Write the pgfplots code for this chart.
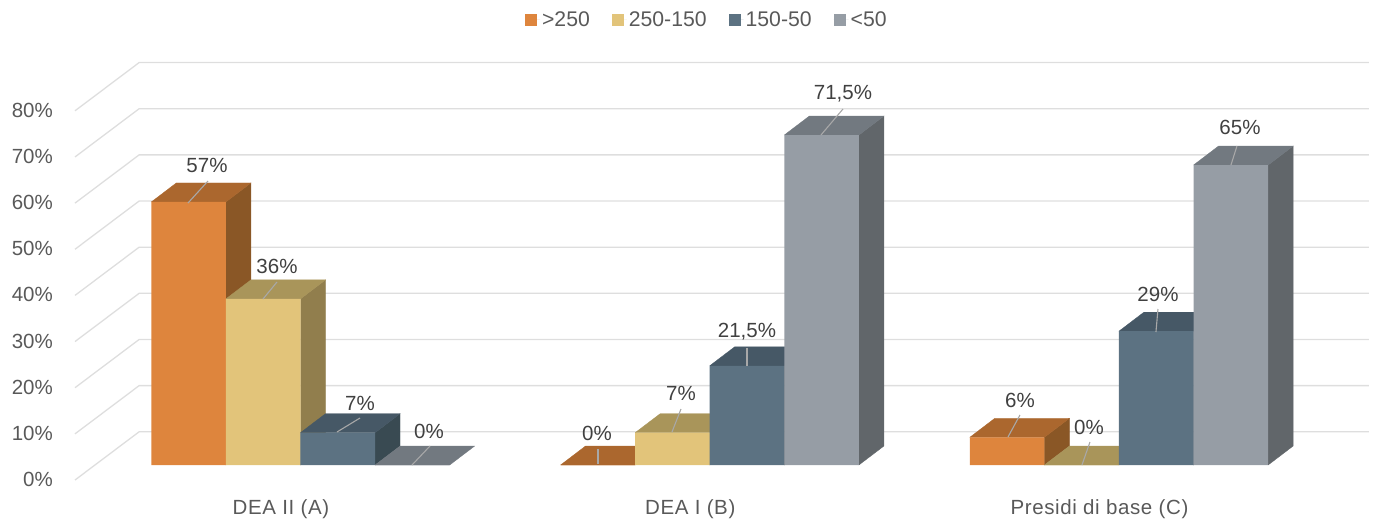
\documentclass[border=0pt]{standalone}
\usepackage{fontspec}
\setmainfont{Liberation Sans}
\usepackage{pgfplots}
\pgfplotsset{compat=1.18}
\definecolor{oF}{HTML}{DE853D}\definecolor{oT}{HTML}{AB672E}\definecolor{oS}{HTML}{8A5726}
\definecolor{yF}{HTML}{E2C47A}\definecolor{yT}{HTML}{A9955A}\definecolor{yS}{HTML}{917E4D}
\definecolor{bF}{HTML}{5C7282}\definecolor{bT}{HTML}{465866}\definecolor{bS}{HTML}{394A52}
\definecolor{gF}{HTML}{969DA5}\definecolor{gT}{HTML}{727980}\definecolor{gS}{HTML}{61666A}
\definecolor{gridc}{HTML}{DEDEDE}
\definecolor{tickc}{HTML}{595959}
\definecolor{labc}{HTML}{404040}
\definecolor{leadc}{HTML}{A8A8A8}
\newcommand\fs{\fontsize{20.5}{24}\selectfont}
\newcommand\fsl{\fontsize{21.2}{24}\selectfont}
\newcommand\fsx{\fontsize{20.5}{24}\selectfont\addfontfeatures{LetterSpace=3}}
% depth faces of a bar: category, series shift, value, colour
\newcommand\sideface[4]{%
  \pgfmathsetmacro\xr{#1+#2+0.09115}\pgfmathsetmacro\xb{\xr+0.0611}%
  \pgfmathsetmacro\vb{#3+4.117}\pgfmathsetmacro\eb{4.117}%
  \addplot[fill=#4,draw=#4,line width=0.3pt,forget plot] coordinates {(\xr,0)(\xb,\eb)(\xb,\vb)(\xr,#3)(\xr,0)};}
\newcommand\topface[4]{%
  \pgfmathsetmacro\xl{#1+#2-0.09115}\pgfmathsetmacro\xr{#1+#2+0.09115}%
  \pgfmathsetmacro\xlb{\xl+0.0611}\pgfmathsetmacro\xrb{\xr+0.0611}\pgfmathsetmacro\vb{#3+4.117}%
  \addplot[fill=#4,draw=#4,line width=0.3pt,forget plot] coordinates {(\xl,#3)(\xlb,\vb)(\xrb,\vb)(\xr,#3)(\xl,#3)};}
% data label with leader line, positions given in picture pixels
\newcommand\lab[7]{%
  \pgfmathsetmacro\pa{(#1-300.5)/409.25}\pgfmathsetmacro\pb{(465-#2)/4.615}%
  \pgfmathsetmacro\pc{(#3-300.5)/409.25}\pgfmathsetmacro\pd{(465-#4)/4.615}%
  \pgfmathsetmacro\pe{(#5-300.5)/409.25}\pgfmathsetmacro\pf{(465-#6)/4.615}%
  \edef\tmp{\noexpand\draw[leadc,line width=1.1pt] (axis cs:\pa,\pb)--(axis cs:\pc,\pd);
  \noexpand\node[text=labc,font=\noexpand\fs,inner sep=0pt] at (axis cs:\pe,\pf) {\unexpanded{#7}};}\tmp}
\begin{document}
\begin{tikzpicture}
\begin{axis}[
  scale only axis, width=1376pt, height=522pt,
  xmin=-0.7343, xmax=2.6281, ymin=-12.35, ymax=100.76,
  clip=false,
  axis line style={draw=none},
  major tick length=0pt,
  tick style={draw=none},
  xtick={0,1,2},
  xticklabels={DEA II (A),DEA I (B),Presidi di base (C)},
  ytick={0,10,20,30,40,50,60,70,80},
  yticklabels={0\%,10\%,20\%,30\%,40\%,50\%,60\%,70\%,80\%},
  xticklabel style={font=\fsx,text=tickc,anchor=center,yshift=13pt,xshift=-19.5pt},
  yticklabel style={font=\fs,text=tickc,anchor=east,xshift=53pt,yshift=-14.5pt,inner sep=0pt},
  legend style={at={(0.5137,0.9617)},anchor=center,draw=none,fill=none,font=\fsl,text=tickc,
    legend columns=4,/tikz/every even column/.append style={column sep=20pt}},
  legend cell align=left,
  legend image code/.code={\fill[#1] (0pt,-6pt) rectangle (12pt,6pt);\path (0pt,0pt)--(15pt,0pt);},
]
% grid: front end, back corner, right end
\addplot[gridc,line width=1.3pt,forget plot] coordinates {(-0.5510,-3.25)(-0.3943,7.2)(2.6109,7.2)};
\addplot[gridc,line width=1.3pt,forget plot] coordinates {(-0.5510,6.75)(-0.3943,17.2)(2.6109,17.2)};
\addplot[gridc,line width=1.3pt,forget plot] coordinates {(-0.5510,16.75)(-0.3943,27.2)(2.6109,27.2)};
\addplot[gridc,line width=1.3pt,forget plot] coordinates {(-0.5510,26.75)(-0.3943,37.2)(2.6109,37.2)};
\addplot[gridc,line width=1.3pt,forget plot] coordinates {(-0.5510,36.75)(-0.3943,47.2)(2.6109,47.2)};
\addplot[gridc,line width=1.3pt,forget plot] coordinates {(-0.5510,46.75)(-0.3943,57.2)(2.6109,57.2)};
\addplot[gridc,line width=1.3pt,forget plot] coordinates {(-0.5510,56.75)(-0.3943,67.2)(2.6109,67.2)};
\addplot[gridc,line width=1.3pt,forget plot] coordinates {(-0.5510,66.75)(-0.3943,77.2)(2.6109,77.2)};
\addplot[gridc,line width=1.3pt,forget plot] coordinates {(-0.5510,76.75)(-0.3943,87.2)(2.6109,87.2)};
% series >250
\sideface{0}{-0.2734}{57}{oS}\topface{0}{-0.2734}{57}{oT}
\topface{1}{-0.2734}{0}{oT}
\sideface{2}{-0.2734}{6}{oS}\topface{2}{-0.2734}{6}{oT}
\addplot[ybar,bar width=0.1823,bar shift=-0.2734,fill=oF,draw=none] coordinates {(0,57)(1,0)(2,6)};
\addlegendentry{>250}
% series 250-150
\sideface{0}{-0.0911}{36}{yS}\topface{0}{-0.0911}{36}{yT}
\sideface{1}{-0.0911}{7}{yS}\topface{1}{-0.0911}{7}{yT}
\topface{2}{-0.0911}{0}{yT}
\addplot[ybar,bar width=0.1823,bar shift=-0.0911,fill=yF,draw=none] coordinates {(0,36)(1,7)(2,0)};
\addlegendentry{250-150}
% series 150-50
\sideface{0}{0.0911}{7}{bS}\topface{0}{0.0911}{7}{bT}
\sideface{1}{0.0911}{21.5}{bS}\topface{1}{0.0911}{21.5}{bT}
\sideface{2}{0.0911}{29}{bS}\topface{2}{0.0911}{29}{bT}
\addplot[ybar,bar width=0.1823,bar shift=0.0911,fill=bF,draw=none] coordinates {(0,7)(1,21.5)(2,29)};
\addlegendentry{150-50}
% series <50
\topface{0}{0.2734}{0}{gT}
\sideface{1}{0.2734}{71.5}{gS}\topface{1}{0.2734}{71.5}{gT}
\sideface{2}{0.2734}{65}{gS}\topface{2}{0.2734}{65}{gT}
\addplot[ybar,bar width=0.1823,bar shift=0.2734,fill=gF,draw=none] coordinates {(0,0)(1,71.5)(2,65)};
\addlegendentry{<50}
% data labels
\lab{188}{203}{208}{181}{207}{165}{57\%}
\lab{263}{299}{277}{282}{277}{266}{36\%}
\lab{337}{432}{360}{418}{360}{403}{7\%}
\lab{412}{465}{430}{446}{429}{431}{0\%}
\lab{598}{464}{598}{449}{597}{433}{0\%}
\lab{672}{432}{681}{409}{681}{393}{7\%}
\lab{747}{366}{747}{348}{747}{332}{21,5\%}
\lab{821}{135}{843}{109}{843}{94}{71,5\%}
\lab{1008}{437}{1020}{415}{1020}{400}{6\%}
\lab{1082}{465}{1090}{442}{1089}{427}{0\%}
\lab{1156}{332}{1158}{309}{1158}{294}{29\%}
\lab{1231}{165}{1237}{146}{1240}{127}{65\%}
\end{axis}
\end{tikzpicture}
\end{document}
